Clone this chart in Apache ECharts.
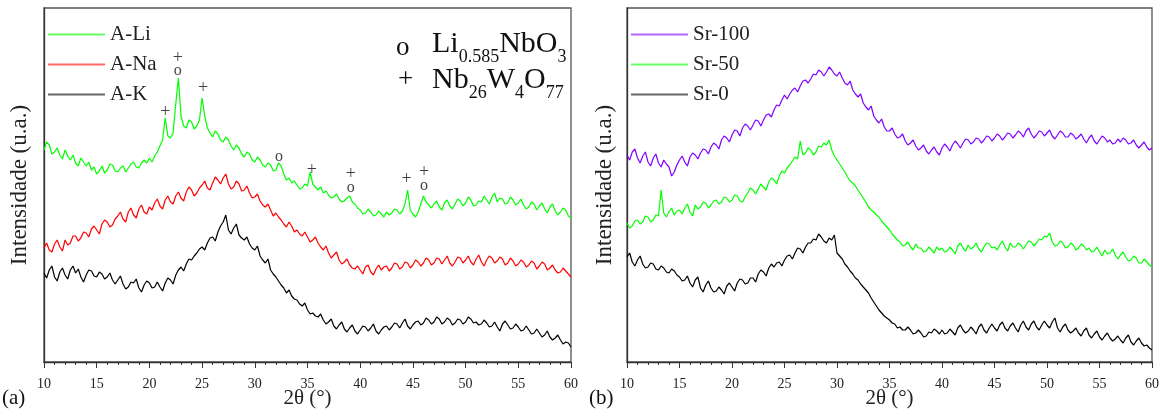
<!DOCTYPE html>
<html><head><meta charset="utf-8">
<script src="https://cdn.jsdelivr.net/npm/echarts@6/dist/echarts.min.js"></script>
<style>html,body{margin:0;padding:0;background:#fff}#c{width:1168px;height:412px}</style>
</head><body><div id="c"></div>
<script>
// 2θ sampling positions (degrees)
const twoTheta = [
10,10.25,10.5,10.75,11,11.25,11.5,11.75,12,12.25,12.5,12.75,13,13.25,13.5,13.75,14,14.25,14.5,14.75,
15,15.25,15.5,15.75,16,16.25,16.5,16.75,17,17.25,17.5,17.75,18,18.25,18.5,18.75,19,19.25,19.5,19.75,
20,20.25,20.5,20.75,21,21.25,21.5,21.75,22,22.25,22.5,22.75,23,23.25,23.5,23.75,24,24.25,24.5,24.75,
25,25.25,25.5,25.75,26,26.25,26.5,26.75,27,27.25,27.5,27.75,28,28.25,28.5,28.75,29,29.25,29.5,29.75,
30,30.25,30.5,30.75,31,31.25,31.5,31.75,32,32.25,32.5,32.75,33,33.25,33.5,33.75,34,34.25,34.5,34.75,
35,35.25,35.5,35.75,36,36.25,36.5,36.75,37,37.25,37.5,37.75,38,38.25,38.5,38.75,39,39.25,39.5,39.75,
40,40.25,40.5,40.75,41,41.25,41.5,41.75,42,42.25,42.5,42.75,43,43.25,43.5,43.75,44,44.25,44.5,44.75,
45,45.25,45.5,45.75,46,46.25,46.5,46.75,47,47.25,47.5,47.75,48,48.25,48.5,48.75,49,49.25,49.5,49.75,
50,50.25,50.5,50.75,51,51.25,51.5,51.75,52,52.25,52.5,52.75,53,53.25,53.5,53.75,54,54.25,54.5,54.75,
55,55.25,55.5,55.75,56,56.25,56.5,56.75,57,57.25,57.5,57.75,58,58.25,58.5,58.75,59,59.25,59.5,59.75,
60];
const xTicks = [10,15,20,25,30,35,40,45,50,55,60];

// Panel (a) intensities (arbitrary units, offset for stacking)
const aLi = [
212,220,217,208,210,214,207,203,212,206,202,207,199,196,204,200,196,200,192,195,
188,191,196,189,192,198,197,191,190,194,196,190,194,198,200,195,194,199,202,199,
204,200,206,210,216,222,244,226,224,229,258,284,246,236,234,242,240,233,236,242,
264,246,234,229,225,231,228,222,220,225,222,216,212,217,214,208,205,210,208,202,
200,205,202,197,195,199,197,191,192,199,196,188,182,184,179,181,177,173,174,178,
176,190,178,175,172,175,169,171,167,164,165,168,163,160,161,164,166,160,158,154,
152,148,149,153,150,146,147,151,148,145,150,147,149,153,152,148,151,158,172,152,
148,145,150,158,166,160,157,154,158,161,155,152,159,162,156,153,158,163,161,156,
159,165,162,156,157,161,160,166,162,158,165,169,160,164,163,158,159,165,162,157,
159,163,157,153,155,160,158,152,156,159,153,149,155,158,151,147,150,154,152,146,
144];
const aNa = [
114,119,112,110,118,122,115,111,122,117,119,126,126,121,124,130,129,125,133,136,
132,128,138,142,140,135,137,143,146,150,143,140,150,154,147,144,153,157,150,148,
155,152,159,163,156,153,162,166,160,158,166,170,164,161,170,175,172,166,169,174,
177,181,174,172,179,185,182,178,184,188,178,173,175,181,178,171,172,176,169,164,
165,168,161,157,155,158,152,146,149,145,142,138,135,140,136,130,132,128,126,130,
125,120,122,125,119,115,112,116,109,104,107,110,102,98,100,103,97,94,93,96,
92,88,95,97,90,87,93,97,92,95,96,91,94,99,98,93,95,100,99,94,
97,102,100,96,99,104,102,97,99,104,103,98,102,106,99,96,100,105,104,99,
102,106,100,97,103,107,100,96,102,106,104,99,101,105,103,97,99,104,101,96,
98,102,100,95,97,101,99,93,96,100,98,92,94,97,92,89,90,94,91,88,
85];
const aK = [
89,84,92,96,85,81,90,94,87,83,92,96,89,93,85,80,87,92,91,86,
85,90,88,83,85,89,82,78,82,86,78,73,75,80,79,83,74,70,77,81,
79,74,75,80,75,71,79,84,82,78,87,92,95,91,98,103,102,106,109,113,
115,112,119,124,125,121,130,136,140,147,132,128,134,138,127,124,122,125,118,114,
112,116,106,102,99,103,92,88,85,81,77,74,69,72,66,63,62,58,56,59,
52,48,49,46,45,48,42,38,40,43,36,33,37,40,33,30,34,37,31,28,
32,36,35,31,34,38,31,28,32,35,36,32,35,39,38,34,39,43,36,33,
37,40,41,37,39,44,42,38,40,45,43,38,40,44,42,37,39,43,42,38,
40,45,43,39,40,37,38,42,39,35,36,40,35,31,38,41,37,33,34,38,
35,31,32,36,32,28,29,33,29,25,27,31,25,22,24,27,22,18,20,19,
15];

// Panel (b)
const sr100 = [
207,202,210,213,204,199,206,210,200,196,204,208,199,195,202,198,195,186,190,197,
202,206,200,196,205,209,207,203,209,213,212,208,215,219,217,213,222,226,224,220,
227,232,231,226,234,238,236,232,237,242,241,236,242,247,248,245,252,257,256,262,
267,263,268,272,274,270,276,281,282,279,283,288,287,292,290,286,290,295,292,288,
286,290,284,279,277,281,272,268,265,268,259,255,252,256,246,242,239,243,235,231,
231,234,228,224,225,228,221,217,219,222,216,212,214,217,211,208,212,215,210,207,
214,218,215,211,217,221,218,214,219,223,222,218,220,224,223,219,222,226,225,221,
224,228,226,222,225,229,228,224,227,231,229,225,231,234,228,224,227,231,230,226,
229,232,226,223,227,231,229,225,225,229,227,223,225,228,223,219,224,227,221,218,
222,226,224,220,222,218,219,223,220,224,222,218,219,222,217,214,217,220,215,212,
214];
const sr50 = [
139,134,136,141,142,138,140,146,145,140,142,147,146,172,149,145,150,154,147,151,
152,148,154,158,150,146,157,153,155,160,159,154,157,161,162,158,160,165,164,160,
162,167,166,161,160,165,169,174,172,168,173,178,175,172,180,184,182,178,186,191,
189,194,197,201,205,203,221,207,209,214,212,207,210,216,215,219,217,222,212,206,
202,198,194,190,185,181,179,176,172,168,164,160,155,152,150,147,145,141,138,135,
132,128,125,122,120,116,117,120,115,112,118,114,114,110,111,115,112,109,115,112,
114,110,111,115,112,108,116,119,114,111,117,113,115,119,113,110,115,119,118,114,
115,112,117,121,115,111,119,115,115,119,117,113,117,121,120,116,119,123,122,126,
125,129,120,116,117,121,119,114,115,119,117,112,114,118,116,112,114,110,111,115,
110,106,112,108,109,113,107,103,107,110,105,101,102,106,104,99,99,103,100,97,
95];
const sr0 = [
105,109,100,96,102,106,98,94,95,99,98,93,92,96,94,90,89,93,91,87,
85,81,82,86,79,75,82,85,74,70,77,81,74,70,71,75,72,68,76,79,
75,71,79,83,82,78,79,84,84,80,88,92,90,86,94,98,95,99,100,96,
102,106,107,103,109,114,113,109,115,119,119,123,122,128,125,121,119,124,122,127,
109,106,103,98,95,91,88,84,82,78,75,72,69,64,60,56,52,49,46,44,
42,39,38,34,35,32,32,35,32,28,29,32,29,25,26,30,29,33,31,28,
32,28,29,33,30,27,34,37,32,29,31,35,32,28,35,38,32,29,34,38,
34,31,37,40,34,31,36,39,34,30,37,41,35,32,38,41,35,32,37,41,
37,34,40,44,34,30,35,38,32,29,31,34,29,26,31,34,27,24,28,31,
25,22,26,29,24,21,23,26,22,19,24,27,20,17,21,24,19,16,17,14,
12];

// Peak markers (2θ, intensity) in panel (a)
const plusMarks = [[21.5,250],[22.7,304],[25.1,274],[35.4,192],[39.1,188],[44.4,183],[46.05,190]];
const oMarks = [[22.7,291],[32.3,205],[39.1,174],[46.05,176]];

const namesA = ['A-Li','A-Na','A-K'];
const namesB = ['Sr-100','Sr-50','Sr-0'];
const colorsA = ['#00ff00','#ff0000','#000000'];
const colorsB = ['#8000ff','#00ff00','#000000'];

const SERIF = '"Liberation Serif", serif';
const pairs = ys => twoTheta.map((x,i)=>[x, ys[i]]);

function xAxis(idx){
  return {gridIndex: idx, type:'value', min:10, max:60, interval:5,
    name:'2θ (°)', nameLocation:'middle', nameGap:26, nameMoveOverlap:false,
    nameTextStyle:{fontFamily:SERIF, fontSize:21, color:'#222'},
    axisLine:{show:true, onZero:false, lineStyle:{color:'#333', width:1.3}},
    axisTick:{show:true, inside:false, length:6, lineStyle:{color:'#333'}},
    minorTick:{show:true, splitNumber:5, length:3, lineStyle:{color:'#333'}},
    axisLabel:{fontFamily:SERIF, fontSize:14, color:'#222', margin:15,
      formatter: v => xTicks.includes(v) ? String(v) : ''},
    splitLine:{show:false}};
}
function yAxis(idx, gap){
  return {gridIndex: idx, type:'value', min:0, max:354,
    name:'Intensidade (u.a.)', nameLocation:'middle', nameGap:gap, nameRotate:90,
    nameTextStyle:{fontFamily:SERIF, fontSize:23, color:'#222'},
    axisLine:{show:true, onZero:false, lineStyle:{color:'#333', width:1.3}},
    axisTick:{show:false}, axisLabel:{show:false}, splitLine:{show:false}};
}
const lineSeries = (name, ys, color, idx) => ({
  name, type:'line', xAxisIndex:idx, yAxisIndex:idx, data:pairs(ys),
  showSymbol:false, symbol:'none', lineStyle:{color, width:1.2}, itemStyle:{color}, silent:true
});
const markSeries = (name, pts, txt, size) => ({
  name, type:'scatter', xAxisIndex:0, yAxisIndex:0, data:pts, symbolSize:1,
  itemStyle:{color:'rgba(0,0,0,0)'}, silent:true,
  label:{show:true, position:'inside', formatter:txt, fontFamily:SERIF, fontSize:size, color:'#111'}
});
const legendCfg = (data, left) => ({data, orient:'vertical', left, top:24, padding:0,
  itemWidth:57, itemHeight:2, itemGap:9, icon:'rect', itemStyle:{opacity:0.6},
  textStyle:{fontFamily:SERIF, fontSize:21, color:'#222', lineHeight:21}});
const SUB = {fontFamily:SERIF, fontSize:18, verticalAlign:'bottom', lineHeight:20, fill:'#111'};

const chart = echarts.init(document.getElementById('c'), null, {renderer:'canvas'});
chart.setOption({
  animation:false,
  backgroundColor:'#fff',
  grid:[
    {left:44, top:8, width:527, height:354, show:true, borderColor:'#555', borderWidth:1.3, containLabel:false, outerBoundsMode:'none'},
    {left:627, top:8, width:525, height:354, show:true, borderColor:'#555', borderWidth:1.3, containLabel:false, outerBoundsMode:'none'}
  ],
  xAxis:[xAxis(0), xAxis(1)],
  yAxis:[yAxis(0,13), yAxis(1,11)],
  legend:[legendCfg(namesA, 48), legendCfg(namesB, 631)],
  series:[
    lineSeries(namesA[0], aLi, colorsA[0], 0),
    lineSeries(namesA[1], aNa, colorsA[1], 0),
    lineSeries(namesA[2], aK, colorsA[2], 0),
    lineSeries(namesB[0], sr100, colorsB[0], 1),
    lineSeries(namesB[1], sr50, colorsB[1], 1),
    lineSeries(namesB[2], sr0, colorsB[2], 1),
    markSeries('plus', plusMarks, '+', 18),
    markSeries('o', oMarks, 'o', 16)
  ],
  graphic:[
    {type:'text', left:396, top:34, style:{text:'o', fontFamily:SERIF, fontSize:27, fill:'#111'}},
    {type:'text', left:398, top:66, style:{text:'+', fontFamily:SERIF, fontSize:27, fill:'#111'}},
    {type:'text', left:432, top:22, style:{text:'Li{s|0.585}NbO{s|3}', fontFamily:SERIF, fontSize:30, lineHeight:44, fill:'#111', rich:{s:SUB}}},
    {type:'text', left:432, top:58, style:{text:'Nb{s|26}W{s|4}O{s|77}', fontFamily:SERIF, fontSize:30, lineHeight:44, fill:'#111', rich:{s:SUB}}},
    {type:'text', left:2, top:388, style:{text:'(a)', fontFamily:SERIF, fontSize:21, fill:'#111'}},
    {type:'text', left:589, top:388, style:{text:'(b)', fontFamily:SERIF, fontSize:21, fill:'#111'}}
  ]
});
</script></body></html>
